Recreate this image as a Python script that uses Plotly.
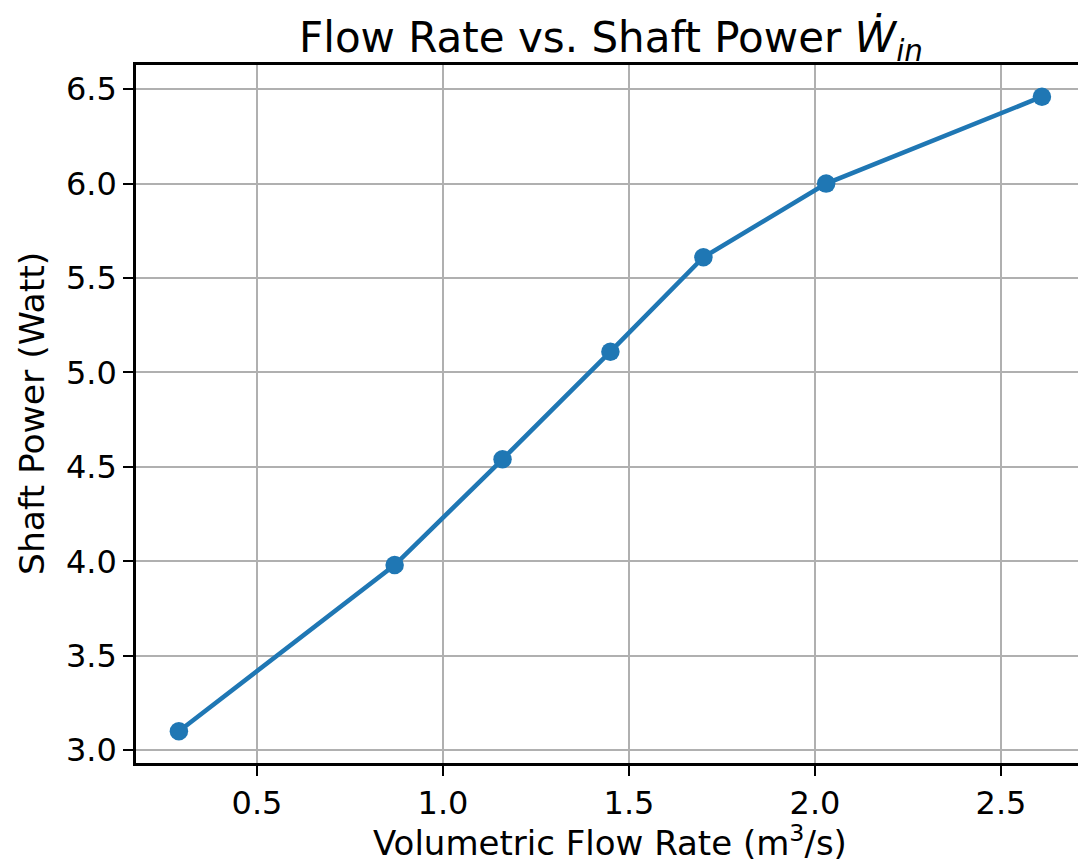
import plotly.graph_objects as go

# Data
flow_rate = [0.29, 0.87, 1.16, 1.45, 1.70, 2.03, 2.61]          # m^3/s
shaft_power = [3.10, 3.98, 4.54, 5.11, 5.61, 6.00, 6.46]         # Watt
x_ticks = [0.5, 1.0, 1.5, 2.0, 2.5]
y_ticks = [3.0, 3.5, 4.0, 4.5, 5.0, 5.5, 6.0, 6.5]

W, H = 1078, 862
L, R, T, B = 136, 0, 65, 99
FONT = "DejaVu Sans"
BLUE = "#1f77b4"

fig = go.Figure()
fig.add_trace(go.Scatter(
    x=flow_rate, y=shaft_power, mode="lines+markers",
    line=dict(color=BLUE, width=4.6),
    marker=dict(color=BLUE, size=18.5),
    showlegend=False,
))

plot_w = W - L - R
plot_h = H - T - B

def px_to_paper_x(px):
    return (px - L) / plot_w

def px_to_paper_y(py):
    return (H - B - py) / plot_h

fig.update_layout(
    width=W, height=H,
    margin=dict(l=L, r=R, t=T, b=B, pad=0),
    paper_bgcolor="white", plot_bgcolor="white",
    font=dict(family=FONT, color="black"),
    title=dict(
        text="Flow Rate vs. Shaft Power <i>Ẇ</i><sub><i>in</i></sub>",
        font=dict(family=FONT, size=42, color="black"),
        x=611 / W, xref="container", xanchor="center",
        y=1 - 37 / H, yref="container", yanchor="middle",
    ),
    xaxis=dict(
        range=[0.1747, 2.707],
        tickvals=x_ticks, ticktext=[f"{v:.1f}" for v in x_ticks],
        ticks="outside", ticklen=10, tickwidth=2.4, tickcolor="black",
        tickfont=dict(family=FONT, size=32, color="black"),
        showgrid=True, gridcolor="#b0b0b0", gridwidth=2.2,
        showline=True, linecolor="black", linewidth=2.6, mirror=True,
        zeroline=False,
    ),
    yaxis=dict(
        range=[2.932, 6.628],
        tickvals=y_ticks, ticktext=[f"{v:.1f}" for v in y_ticks],
        ticks="outside", ticklen=10, tickwidth=2.4, tickcolor="black",
        tickfont=dict(family=FONT, size=32, color="black"),
        showgrid=True, gridcolor="#b0b0b0", gridwidth=2.2,
        showline=True, linecolor="black", linewidth=2.6, mirror=False,
        zeroline=False,
    ),
    annotations=[
        dict(text="Volumetric Flow Rate (m<sup>3</sup>/s)",
             xref="paper", yref="paper",
             x=px_to_paper_x(610), y=px_to_paper_y(841),
             xanchor="center", yanchor="middle", showarrow=False,
             font=dict(family=FONT, size=34, color="black")),
        dict(text="Shaft Power (Watt)",
             xref="paper", yref="paper",
             x=px_to_paper_x(32), y=0.5, textangle=-90,
             xanchor="center", yanchor="middle", showarrow=False,
             font=dict(family=FONT, size=34.5, color="black")),
    ],
)

fig.write_html("out.html")
